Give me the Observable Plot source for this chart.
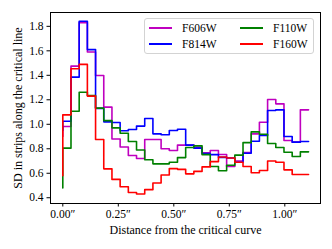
<!DOCTYPE html>
<html><head><meta charset="utf-8">
<script src="https://cdn.jsdelivr.net/npm/d3@7"></script>
<script src="https://cdn.jsdelivr.net/npm/@observablehq/plot@0.6"></script>
<style>
body{margin:0;background:#fff;}
#wrap{position:relative;width:332px;height:249px;font-family:"Liberation Serif",serif;}
#wrap svg{display:block;}
.legend{position:absolute;left:144px;top:18px;width:170px;height:36px;border:1px solid #d3d3d3;border-radius:3px;background:rgba(255,255,255,0.8);box-sizing:border-box;}
.entry{position:absolute;height:14px;width:80px;font-size:11.5px;line-height:14px;color:#000;white-space:nowrap;}
.entry .sw{position:absolute;display:block;left:0;top:6px;width:23px;height:1.6px;}
.entry .lb{position:absolute;left:33px;top:0;}
</style></head>
<body><div id="wrap"></div>
<script>
// series names and colours
const series = ["F606W", "F814W", "F110W", "F160W"];
const colors = ["#bf00bf", "#0000ff", "#008000", "#ff0000"];
// distance step between successive points (arcsec)
const binWidth = 0.0369;
// SD values per series (first value is the starting point at 0")
const F606W = [0.90, 0.982, 1.475, 1.83, 1.59, 1.399, 1.14, 0.88, 0.815, 0.745, 0.72, 0.876, 0.876, 0.80, 0.786, 0.83, 0.83, 0.813, 0.768, 0.786, 0.753, 0.655, 0.70, 0.77, 0.922, 1.017, 1.203, 1.167, 0.868, 0.854, 1.118];
const F814W = [0.95, 1.025, 1.385, 1.842, 1.61, 1.13, 1.02, 1.015, 0.947, 0.958, 0.985, 1.047, 0.922, 0.914, 0.949, 0.96, 0.83, 0.805, 0.76, 0.752, 0.73, 0.725, 0.69, 0.764, 0.862, 0.908, 1.113, 1.118, 0.90, 0.854, 0.859];
const F110W = [0.48, 0.805, 1.107, 1.262, 1.235, 1.132, 1.03, 0.971, 0.927, 0.86, 0.79, 0.71, 0.677, 0.677, 0.69, 0.728, 0.81, 0.824, 0.752, 0.655, 0.62, 0.665, 0.748, 0.85, 0.938, 0.918, 0.843, 0.81, 0.772, 0.737, 0.775];
const F160W = [0.58, 1.077, 1.453, 1.489, 1.23, 0.876, 0.636, 0.55, 0.49, 0.443, 0.43, 0.466, 0.52, 0.586, 0.638, 0.632, 0.595, 0.615, 0.652, 0.695, 0.733, 0.725, 0.69, 0.655, 0.604, 0.622, 0.70, 0.69, 0.628, 0.59, 0.59];
// tick values
const xTicks = [0, 0.25, 0.5, 0.75, 1.0];
const yTicks = [0.4, 0.6, 0.8, 1.0, 1.2, 1.4, 1.6, 1.8];

const values = [F606W, F814W, F110W, F160W];
const tables = values.map((vals, s) => vals.map((v, i) => ({x: i * binWidth, y: v, name: series[s]})));

const font = '"Liberation Serif", "Times New Roman", serif';
const chart = Plot.plot({
  width: 332, height: 249,
  marginLeft: 50, marginRight: 12, marginTop: 12, marginBottom: 46,
  x: {domain: [-0.0554, 1.1608]},
  y: {domain: [0.353, 1.913]},
  style: {fontFamily: font, fontSize: "11px", background: "white", color: "black"},
  marks: [
    ...tables.map((t, s) => Plot.line(t, {x: "x", y: "y", stroke: colors[s], strokeWidth: 1.6, curve: "step-before"})),
    Plot.frame({stroke: "black", strokeWidth: 1}),
    Plot.axisX({ticks: xTicks, tickFormat: d => d.toFixed(2) + "″", tickSize: 3.5, tickPadding: 3, fontSize: 11.5, label: null}),
    Plot.axisX({ticks: [], fontSize: 12,
      label: "Distance from the critical curve", labelAnchor: "center", labelArrow: false, labelOffset: 30}),
    Plot.axisY({ticks: yTicks, tickFormat: d3.format(".1f"), tickSize: 3.5, tickPadding: 3.5, fontSize: 11.5, label: null}),
    Plot.axisY({ticks: [], fontSize: 12,
      label: "SD in strips along the critical line", labelAnchor: "center", labelArrow: false, labelOffset: 37})
  ]
});
const wrap = document.getElementById("wrap");
wrap.appendChild(chart);

// legend inside the frame
const leg = document.createElement("div");
leg.className = "legend";
series.forEach((name, i) => {
  const col = Math.floor(i / 2), row = i % 2;
  const e = document.createElement("div");
  e.className = "entry";
  e.style.left = (4 + col * 91) + "px";
  e.style.top = (2 + row * 16) + "px";
  const sw = document.createElement("span");
  sw.className = "sw";
  sw.style.backgroundColor = colors[i];
  const lb = document.createElement("span");
  lb.className = "lb";
  lb.textContent = name;
  e.appendChild(sw);
  e.appendChild(lb);
  leg.appendChild(e);
});
wrap.appendChild(leg);
</script>
</body></html>
